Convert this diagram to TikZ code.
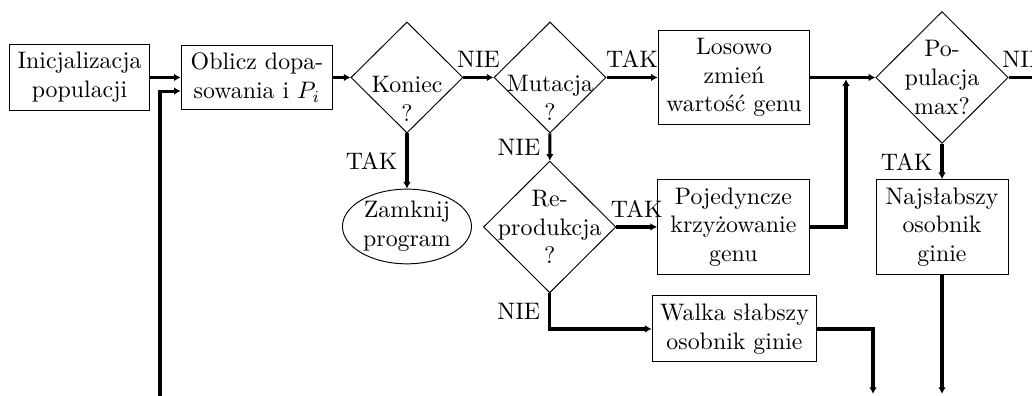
\documentclass[tikz,border=0pt]{standalone}
\usepackage{fontspec}
\usetikzlibrary{shapes.geometric,arrows.meta}

\begin{document}
\begin{tikzpicture}[
  x=1cm,y=1cm,
  box/.style={draw=black, thin, align=center, inner sep=0.333em},
  task/.style={box, text width=2cm},
  decision/.style={diamond, draw=black, thin, align=center, aspect=1,
                   inner sep=-8pt, minimum width=1.65cm, minimum height=1.635cm},
  bigdecision/.style={decision, minimum width=1.95cm, minimum height=1.94cm},
  stopnode/.style={ellipse, draw=black, thin, align=center, inner sep=0pt,
                   minimum width=1.90cm, minimum height=1.10cm},
  flow/.style={-{Latex[length=2.8pt,width=3.2pt]}, line width=1.3pt},
  wire/.style={line width=1.3pt}
]
  \path[use as bounding box, clip] (0,0) rectangle (15.197,5.831);

  % top row
  \node[box] (init) at (1.171,4.69) {Inicjalizacja\\populacji};
  \node[task] (oblicz) at (3.785,4.69) {Oblicz dopa-\\sowania i $P_i$};
  \node[decision] (koniec) at (5.993,4.69) {\rule{0pt}{25pt}Koniec\\?};
  \node[decision] (mutacja) at (8.099,4.69) {\rule{0pt}{24pt}Mutacja\\?};
  \node[task] (losowo) at (10.809,4.69) {Losowo\\zmień\\wartość genu};
  \node[bigdecision] (popul) at (13.872,4.69) {Po-\\pulacja\\max?};

  % middle row
  \node[stopnode] (zamknij) at (5.993,2.496) {Zamknij\\program};
  \node[bigdecision] (repro) at (8.095,2.489) {Re-\\produkcja\\?};
  \node[task] (pojed) at (10.80,2.489) {Pojedyncze\\krzyżowanie\\genu};
  \node[box,text width=1.71cm] (najsl) at (13.872,2.489) {Najsłabszy\\osobnik\\ginie};

  % bottom row
  \node[box] (walka) at (10.816,0.987) {Walka słabszy\\osobnik ginie};

  \coordinate (loopstart) at (2.356,-0.4);
  \coordinate (merge) at (12.458,4.665);
  \coordinate (walkaout) at (12.856,0.03);
  \coordinate (najslout) at (13.872,0.03);
  \coordinate (popnie) at (15.30,4.69);

  \draw[flow] (init) -- (oblicz);
  \draw[flow] (loopstart) |- ([yshift=-0.2cm]oblicz.west);
  \draw[flow] (oblicz) -- (koniec);
  \draw[flow] (koniec) -- node[above] {NIE} (mutacja);
  \draw[flow] (koniec) -- node[left] {TAK} (zamknij);
  \draw[flow] (mutacja) -- node[above] {TAK} (losowo);
  \draw[flow] (mutacja) -- node[left] {NIE} (repro);
  \draw[flow] (repro) -- node[above] {TAK} (pojed);
  \draw[flow] (repro.south) |- node[pos=0.25,left] {NIE} (walka.west);
  \draw[flow] (losowo) -- (popul);
  \draw[flow] (pojed.east) -| (merge);
  \draw[flow] (popul) -- node[left] {TAK} (najsl);
  \draw[wire] (popul.east) -- node[above] {NIE} (popnie);
  \draw[flow] (walka.east) -| (walkaout);
  \draw[flow] (najsl.south) -- (najslout);
\end{tikzpicture}
\end{document}
